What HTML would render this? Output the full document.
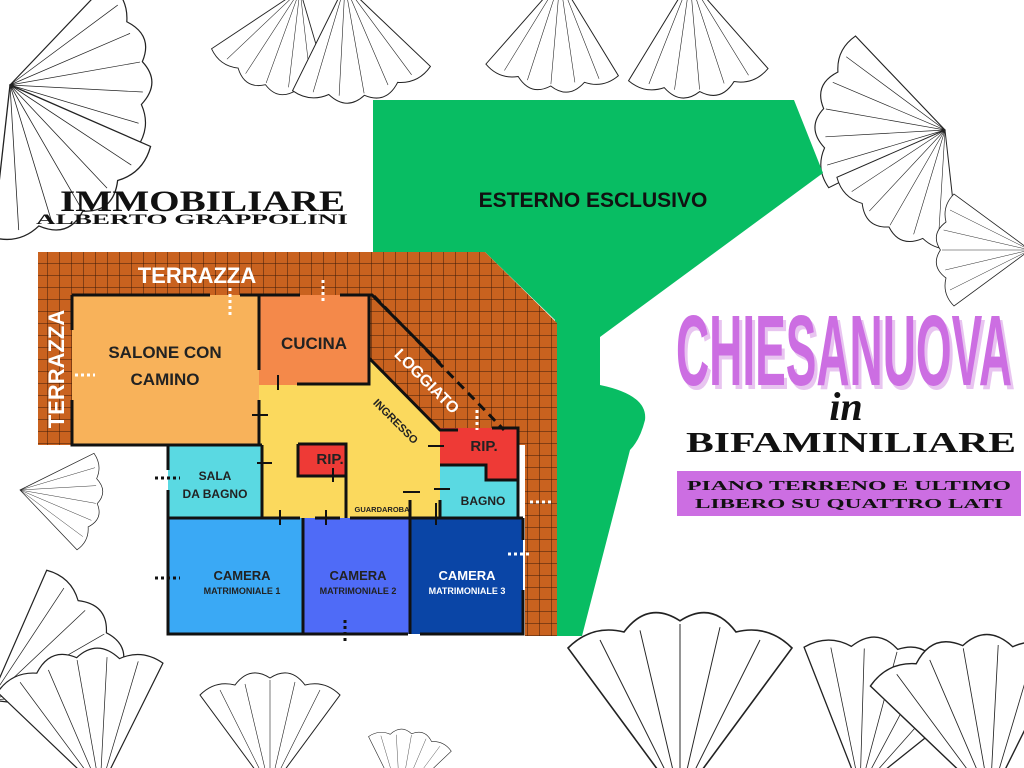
<!DOCTYPE html>
<html><head><meta charset="utf-8">
<style>
html,body{margin:0;padding:0;background:#fff;overflow:hidden;width:1024px;height:768px}
body{position:relative}
svg{position:absolute;left:0;top:0;display:block}
</style></head><body>
<svg width="1024" height="768" viewBox="0 0 1024 768" xmlns="http://www.w3.org/2000/svg" overflow="hidden">
<defs>
<pattern id="grid" width="12" height="12" patternUnits="userSpaceOnUse">
<rect width="12" height="12" fill="#c9621f"/>
<path d="M12 0V12M0 12H12" stroke="#3a1a08" stroke-width="1"/>
</pattern>
<g id="leaf" fill="none" stroke="#222" stroke-width="1">
<path d="M0 0 L-70 -95 Q-55 -110 -35 -105 Q-20 -125 0 -112 Q20 -125 35 -105 Q55 -110 70 -95 Z" fill="#fff"/>
<path d="M0 0L-50 -100M0 0L-25 -106M0 0L0 -110M0 0L25 -108M0 0L50 -100" stroke-width="0.6"/>
</g>
<clipPath id="pg"><rect width="1024" height="768"/></clipPath>
</defs>

<g clip-path="url(#pg)">
<use href="#leaf" transform="translate(10,85) rotate(80) scale(1.2)"/>
<use href="#leaf" transform="translate(10,85) rotate(150) scale(1.3)"/>
<use href="#leaf" transform="translate(300,-10) rotate(200) scale(0.9)"/>
<use href="#leaf" transform="translate(345,-15) rotate(170) scale(1.0)"/>
<use href="#leaf" transform="translate(560,-20) rotate(185) scale(0.95)"/>
<use href="#leaf" transform="translate(690,-20) rotate(175) scale(1.0)"/>
<use href="#leaf" transform="translate(945,130) rotate(-80) scale(1.1)"/>
<use href="#leaf" transform="translate(945,130) rotate(-150) scale(1.0)"/>
<use href="#leaf" transform="translate(1030,250) rotate(-90) scale(0.8)"/>
<use href="#leaf" transform="translate(20,490) rotate(100) scale(0.7)"/>
<use href="#leaf" transform="translate(-10,700) rotate(60) scale(1.2)"/>
<use href="#leaf" transform="translate(100,790) rotate(-10) scale(1.2)"/>
<use href="#leaf" transform="translate(270,790) rotate(0) scale(1.0)"/>
<use href="#leaf" transform="translate(400,800) rotate(10) scale(0.6)"/>
<use href="#leaf" transform="translate(680,800) rotate(0) scale(1.6)"/>
<use href="#leaf" transform="translate(860,790) rotate(15) scale(1.3)"/>
<use href="#leaf" transform="translate(990,800) rotate(-10) scale(1.4)"/>
</g>

<path d="M373 100 L794 100 L823 173 L600 337 L600 385 Q648 395 645 420 Q640 440 630 450 L582 636 L555 636 L555 320 L485 252 L373 252 Z" fill="#08bd63"/>
<text x="593" y="207" font-family="Liberation Sans, sans-serif" font-weight="bold" font-size="21" text-anchor="middle" fill="#111">ESTERNO ESCLUSIVO</text>

<path d="M38 252 L485 252 L557 323 L557 636 L525 636 L525 445 L38 445 Z" fill="url(#grid)"/>

<rect x="72" y="295" width="187" height="150" fill="#f8b25a"/>
<rect x="259" y="295" width="110" height="90" fill="#f4894a"/>
<path d="M259 385 L369 385 L369 358 L440 430 L440 518 L263 518 L263 445 L259 445 Z" fill="#fbd95d"/>
<rect x="168" y="445" width="95" height="73" fill="#5ad9e2"/>
<rect x="298" y="444" width="48" height="32" fill="#ee3a36"/>
<path d="M440 428 L518 428 L518 480 L486 480 L486 465 L440 465 Z" fill="#ee3a36"/>
<path d="M440 465 L486 465 L486 480 L518 480 L518 518 L440 518 Z" fill="#5ad9e2"/>
<rect x="168" y="518" width="135" height="116" fill="#3aa9f5"/>
<rect x="303" y="518" width="107" height="116" fill="#4f6bf7"/>
<rect x="410" y="518" width="113" height="116" fill="#0a45a6"/>

<g stroke="#111" stroke-width="3" fill="none">
<path d="M72 295 H210 M240 295 H300 M340 295 H372 L440 363"/>
<path d="M72 295 V330 M72 400 V445 H259"/>
<path d="M259 295 V370 M259 400 V445"/>
<path d="M297 384 H369 V295"/>
<path d="M369 358 L440 430 H458 M492 428 H518 V480 H486 V465 H440"/>
<path d="M298 444 V476 H346 V444 H298"/>
<path d="M168 445 V470 M168 490 V634 H408 M420 634 H523 V590 M523 540 V518"/>
<path d="M168 518 H262 V445 M168 445 H262"/>
<path d="M262 518 H300 M315 518 H340 M350 518 H410 M410 518 H523"/>
<path d="M346 476 V518 M303 518 V634 M410 500 V634"/>
<path d="M440 500 V518 M518 480 V518"/>
</g>
<g stroke="#111" stroke-width="2">
<path d="M252 415 H268 M257 463 H272 M278 375 V390 M280 510 V525 M326 510 V525 M333 468 V482 M403 492 H420 M436 503 V525 M428 446 H444 M434 489 H450"/>
</g>
<path d="M374 296 L504 430" stroke="#111" stroke-width="3" stroke-dasharray="9 6"/>

<g stroke="#fff" stroke-width="3" stroke-dasharray="3 3">
<path d="M230 288 V315 M323 280 V302 M75 375 H95 M477 410 V430 M530 502 H552 M508 554 H532"/>
</g>
<g stroke="#111" stroke-width="3" stroke-dasharray="3 3">
<path d="M155 478 H180 M155 578 H180 M345 620 V642"/>
</g>

<g font-family="Liberation Sans, sans-serif" font-weight="bold" text-anchor="middle" fill="#222">
<text x="165" y="358" font-size="17">SALONE CON</text>
<text x="165" y="385" font-size="17">CAMINO</text>
<text x="314" y="349" font-size="17">CUCINA</text>
<text x="330" y="464" font-size="15">RIP.</text>
<text x="484" y="451" font-size="15">RIP.</text>
<text x="215" y="480" font-size="12">SALA</text>
<text x="215" y="498" font-size="12">DA BAGNO</text>
<text x="483" y="505" font-size="12">BAGNO</text>
<text x="382" y="512" font-size="7.5">GUARDAROBA</text>
<text x="393" y="424" font-size="11" transform="rotate(45 393 424)">INGRESSO</text>
<text x="242" y="580" font-size="13">CAMERA</text>
<text x="242" y="594" font-size="9">MATRIMONIALE 1</text>
<text x="358" y="580" font-size="13">CAMERA</text>
<text x="358" y="594" font-size="9">MATRIMONIALE 2</text>
<text x="467" y="580" font-size="13" fill="#fff">CAMERA</text>
<text x="467" y="594" font-size="9" fill="#fff">MATRIMONIALE 3</text>
</g>
<g font-family="Liberation Sans, sans-serif" font-weight="bold" fill="#fff" text-anchor="middle">
<text x="197" y="283" font-size="22">TERRAZZA</text>
<text x="64" y="369" font-size="22" transform="rotate(-90 64 369)">TERRAZZA</text>
<text x="423" y="385" font-size="16" transform="rotate(45 423 385)">LOGGIATO</text>
</g>

<g font-family="Liberation Serif, serif" font-weight="bold" fill="#111">
<text x="60" y="211" font-size="30" textLength="285" lengthAdjust="spacingAndGlyphs">IMMOBILIARE</text>
<text x="36" y="224" font-size="15" textLength="312" lengthAdjust="spacingAndGlyphs">ALBERTO GRAPPOLINI</text>
</g>

<g font-family="Liberation Sans, sans-serif" font-weight="bold">
<text x="679" y="389" font-size="100" fill="#e8c4f0" textLength="336" lengthAdjust="spacingAndGlyphs">CHIESANUOVA</text>
<text x="676" y="385" font-size="100" fill="#cc6ee2" textLength="336" lengthAdjust="spacingAndGlyphs">CHIESANUOVA</text>
</g>
<text x="846" y="420" font-family="Liberation Serif, serif" font-style="italic" font-weight="bold" font-size="40" text-anchor="middle" fill="#111">in</text>
<text x="686" y="452" font-family="Liberation Serif, serif" font-weight="bold" font-size="28" textLength="330" lengthAdjust="spacingAndGlyphs" fill="#111">BIFAMINILIARE</text>
<rect x="677" y="471" width="344" height="45" fill="#cc6ee2"/>
<g font-family="Liberation Serif, serif" font-weight="bold" font-size="14" fill="#111">
<text x="687" y="490" textLength="324" lengthAdjust="spacingAndGlyphs">PIANO TERRENO E ULTIMO</text>
<text x="695" y="508" textLength="308" lengthAdjust="spacingAndGlyphs">LIBERO SU QUATTRO LATI</text>
</g>
</svg>
</body></html>
